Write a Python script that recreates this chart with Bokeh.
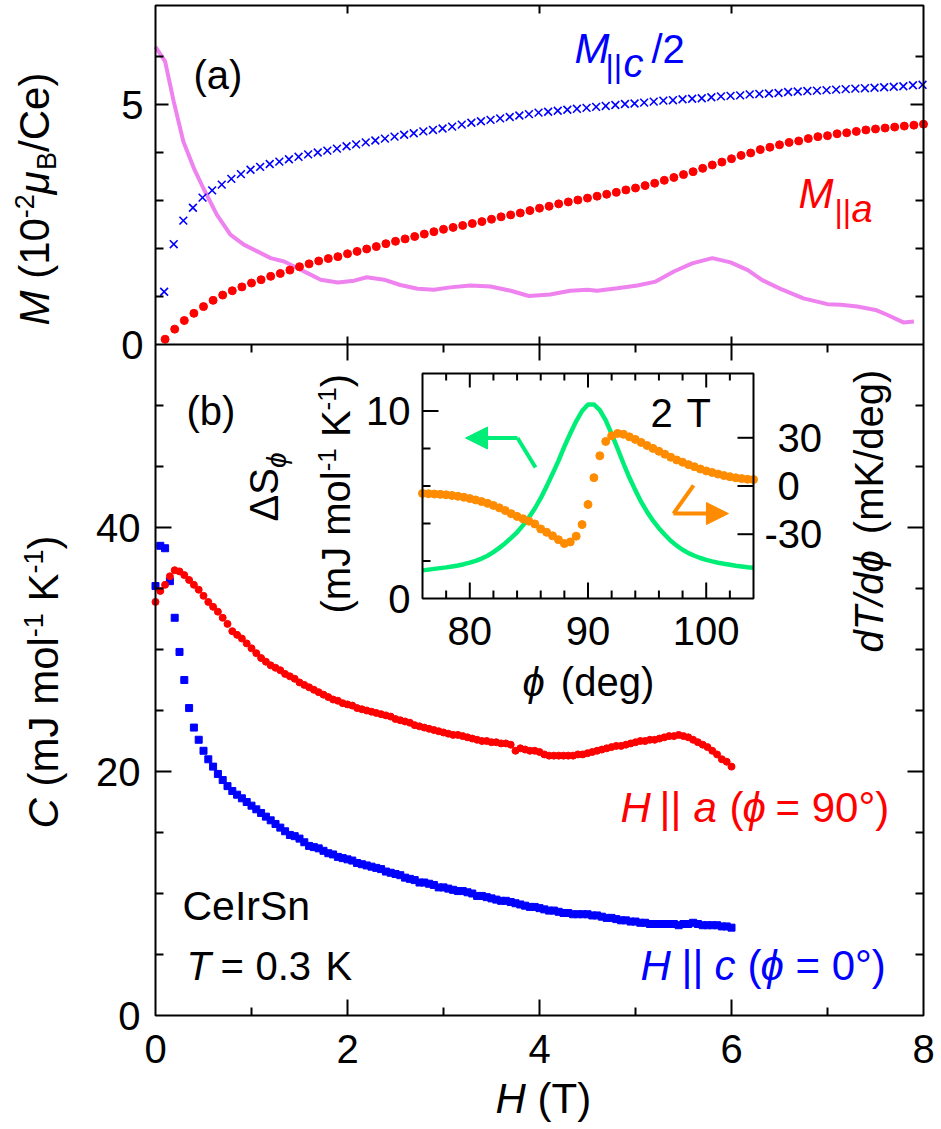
import numpy as np
from bokeh.plotting import figure
from bokeh.models import Range1d, Label, Arrow, NormalHead
from bokeh.embed import file_html
from bokeh.resources import INLINE

FONT = "Liberation Sans"
RED = "#FF0000"
BLUE = "#0000FF"
VIOLET = "#EE82EE"
GREEN = "#00EE77"
ORANGE = "#FF8C00"
PHI = "ϕ"

# ---------------- data: panel (a) ----------------
Ha_par_a = [0.1, 0.2, 0.3, 0.4, 0.5, 0.6, 0.7, 0.8, 0.9, 1.0,
            1.1, 1.2, 1.3, 1.4, 1.5, 1.6, 1.7, 1.8, 1.9, 2.0,
            2.1, 2.2, 2.3, 2.4, 2.5, 2.6, 2.7, 2.8, 2.9, 3.0,
            3.1, 3.2, 3.3, 3.4, 3.5, 3.6, 3.7, 3.8, 3.9, 4.0,
            4.1, 4.2, 4.3, 4.4, 4.5, 4.6, 4.7, 4.8, 4.9, 5.0,
            5.1, 5.2, 5.3, 5.4, 5.5, 5.6, 5.7, 5.8, 5.9, 6.0,
            6.1, 6.2, 6.3, 6.4, 6.5, 6.6, 6.7, 6.8, 6.9, 7.0,
            7.1, 7.2, 7.3, 7.4, 7.5, 7.6, 7.7, 7.8, 7.9, 8.0]
M_par_a = [0.11, 0.32, 0.50, 0.65, 0.79, 0.92, 1.03, 1.12, 1.20, 1.28,
           1.35, 1.42, 1.48, 1.55, 1.62, 1.68, 1.74, 1.79, 1.83, 1.89,
           1.94, 1.99, 2.04, 2.10, 2.15, 2.20, 2.25, 2.30, 2.35, 2.40,
           2.44, 2.48, 2.52, 2.56, 2.61, 2.66, 2.70, 2.74, 2.79, 2.84,
           2.88, 2.93, 2.97, 3.01, 3.05, 3.09, 3.13, 3.17, 3.22, 3.26,
           3.31, 3.36, 3.42, 3.48, 3.54, 3.60, 3.67, 3.74, 3.80, 3.87,
           3.94, 3.99, 4.06, 4.11, 4.16, 4.21, 4.24, 4.29, 4.33, 4.35,
           4.39, 4.41, 4.44, 4.47, 4.49, 4.51, 4.53, 4.55, 4.57, 4.59]

Ha_par_c = [0.09, 0.19, 0.29, 0.39, 0.49, 0.59, 0.69, 0.79, 0.89, 0.99,
            1.09, 1.19, 1.29, 1.39, 1.49, 1.59, 1.69, 1.79, 1.89, 1.99,
            2.09, 2.19, 2.29, 2.39, 2.49, 2.59, 2.69, 2.79, 2.89, 2.99,
            3.09, 3.19, 3.29, 3.39, 3.49, 3.59, 3.69, 3.79, 3.89, 3.99,
            4.09, 4.19, 4.29, 4.39, 4.49, 4.59, 4.69, 4.79, 4.89, 4.99,
            5.09, 5.19, 5.29, 5.39, 5.49, 5.59, 5.69, 5.79, 5.89, 5.99,
            6.09, 6.19, 6.29, 6.39, 6.49, 6.59, 6.69, 6.79, 6.89, 6.99,
            7.09, 7.19, 7.29, 7.39, 7.49, 7.59, 7.69, 7.79, 7.89, 7.99]
M_par_c_half = [1.10, 2.09, 2.58, 2.85, 3.06, 3.21, 3.33, 3.45, 3.55, 3.64,
                3.70, 3.76, 3.81, 3.86, 3.91, 3.96, 4.00, 4.04, 4.08, 4.13,
                4.17, 4.21, 4.25, 4.29, 4.33, 4.37, 4.40, 4.44, 4.47, 4.50,
                4.54, 4.58, 4.62, 4.65, 4.68, 4.71, 4.74, 4.77, 4.80, 4.83,
                4.85, 4.87, 4.89, 4.91, 4.93, 4.95, 4.97, 4.99, 5.01, 5.02,
                5.04, 5.06, 5.08, 5.09, 5.11, 5.12, 5.13, 5.15, 5.17, 5.18,
                5.19, 5.21, 5.22, 5.23, 5.24, 5.26, 5.27, 5.28, 5.29, 5.30,
                5.31, 5.32, 5.33, 5.34, 5.35, 5.36, 5.37, 5.38, 5.40, 5.41]

H_deriv = [0.0, 0.1, 0.19, 0.29, 0.4, 0.5, 0.64, 0.78, 0.92, 1.06, 1.2,
           1.34, 1.48, 1.62, 1.72, 1.9, 2.07, 2.2, 2.38, 2.55, 2.73,
           2.9, 3.07, 3.28, 3.49, 3.7, 3.89, 4.11, 4.32, 4.5, 4.6,
           4.81, 5.02, 5.21, 5.4, 5.59, 5.8, 5.99, 6.17, 6.32, 6.51,
           6.75, 7.0, 7.14, 7.31, 7.5, 7.62, 7.79, 7.9]
M_deriv = [6.2, 5.9, 5.06, 4.23, 3.67, 3.25, 2.7, 2.29, 2.08, 1.94, 1.8,
           1.73, 1.59, 1.45, 1.35, 1.29, 1.33, 1.4, 1.35, 1.24, 1.16,
           1.14, 1.19, 1.23, 1.21, 1.12, 1.01, 1.04, 1.12, 1.14, 1.12,
           1.17, 1.23, 1.31, 1.52, 1.69, 1.80, 1.71, 1.55, 1.34, 1.16,
           0.96, 0.84, 0.83, 0.79, 0.72, 0.62, 0.46, 0.48]

# ---------------- data: panel (b) ----------------
H_b = [0.00, 0.05, 0.10, 0.15, 0.20, 0.25, 0.30, 0.35, 0.40, 0.45,
       0.50, 0.55, 0.60, 0.65, 0.70, 0.75, 0.80, 0.85, 0.90, 0.95,
       1.00, 1.05, 1.10, 1.15, 1.20, 1.25, 1.30, 1.35, 1.40, 1.45,
       1.50, 1.55, 1.60, 1.65, 1.70, 1.75, 1.80, 1.85, 1.90, 1.95,
       2.00, 2.05, 2.10, 2.15, 2.20, 2.25, 2.30, 2.35, 2.40, 2.45,
       2.50, 2.55, 2.60, 2.65, 2.70, 2.75, 2.80, 2.85, 2.90, 2.95,
       3.00, 3.05, 3.10, 3.15, 3.20, 3.25, 3.30, 3.35, 3.40, 3.45,
       3.50, 3.55, 3.60, 3.65, 3.70, 3.75, 3.80, 3.85, 3.90, 3.95,
       4.00, 4.05, 4.10, 4.15, 4.20, 4.25, 4.30, 4.35, 4.40, 4.45,
       4.50, 4.55, 4.60, 4.65, 4.70, 4.75, 4.80, 4.85, 4.90, 4.95,
       5.00, 5.05, 5.10, 5.15, 5.20, 5.25, 5.30, 5.35, 5.40, 5.45,
       5.50, 5.55, 5.60, 5.65, 5.70, 5.75, 5.80, 5.85, 5.90, 5.95,
       6.00]
C_par_a = [33.9, 34.8, 35.3, 36.0, 36.5, 36.4, 36.1, 35.7, 35.3, 34.9,
           34.4, 33.9, 33.5, 33.1, 32.6, 32.1, 31.5, 31.2, 30.9, 30.5,
           30.1, 29.7, 29.3, 29.0, 28.7, 28.5, 28.3, 28.0, 27.8, 27.6,
           27.3, 27.1, 26.9, 26.7, 26.5, 26.3, 26.1, 25.9, 25.8, 25.6,
           25.5, 25.4, 25.2, 25.1, 25.0, 24.9, 24.8, 24.7, 24.6, 24.5,
           24.3, 24.2, 24.1, 24.0, 23.8, 23.7, 23.6, 23.5, 23.4, 23.3,
           23.2, 23.1, 23.0, 23.0, 22.9, 22.8, 22.7, 22.6, 22.5, 22.5,
           22.4, 22.4, 22.3, 22.3, 22.2, 21.7, 21.9, 21.8, 21.7, 21.7,
           21.6, 21.4, 21.3, 21.3, 21.3, 21.3, 21.3, 21.3, 21.4, 21.4,
           21.5, 21.6, 21.7, 21.8, 21.9, 22.0, 22.1, 22.1, 22.2, 22.3,
           22.4, 22.5, 22.5, 22.6, 22.6, 22.7, 22.8, 22.9, 22.9, 23.0,
           22.9, 22.8, 22.6, 22.4, 22.2, 22.0, 21.7, 21.4, 21.0, 20.8,
           20.4]
C_par_c = [35.2, 38.5, 38.3, 35.6, 32.6, 29.8, 27.5, 25.2, 23.6, 22.6,
           21.7, 21.0, 20.4, 19.8, 19.3, 18.8, 18.4, 18.1, 17.8, 17.5,
           17.2, 16.9, 16.6, 16.3, 16.0, 15.7, 15.4, 15.1, 14.8, 14.7,
           14.5, 14.2, 13.9, 13.8, 13.7, 13.5, 13.3, 13.2, 13.0, 12.9,
           12.8, 12.7, 12.5, 12.4, 12.3, 12.2, 12.1, 12.0, 11.8, 11.7,
           11.6, 11.5, 11.3, 11.2, 11.1, 10.9, 10.9, 10.8, 10.7, 10.5,
           10.5, 10.4, 10.3, 10.2, 10.2, 10.1, 10.0, 9.8, 9.8, 9.7,
           9.6, 9.5, 9.4, 9.4, 9.3, 9.2, 9.1, 9.0, 8.9, 8.9,
           8.8, 8.7, 8.6, 8.6, 8.5, 8.4, 8.4, 8.3, 8.3, 8.3,
           8.3, 8.2, 8.2, 8.1, 8.0, 8.0, 7.9, 7.8, 7.8, 7.7,
           7.7, 7.6, 7.6, 7.5, 7.5, 7.5, 7.5, 7.5, 7.5, 7.4,
           7.5, 7.5, 7.6, 7.5, 7.4, 7.4, 7.4, 7.4, 7.3, 7.3,
           7.2]

# ---------------- data: inset ----------------
phi = [76.0, 76.5, 77.0, 77.5, 78.0, 78.5, 79.0, 79.5, 80.0, 80.5,
       81.0, 81.5, 82.0, 82.5, 83.0, 83.5, 84.0, 84.5, 85.0, 85.5,
       86.0, 86.5, 87.0, 87.5, 88.0, 88.5, 89.0, 89.5, 90.0, 90.5,
       91.0, 91.5, 92.0, 92.5, 93.0, 93.5, 94.0, 94.5, 95.0, 95.5,
       96.0, 96.5, 97.0, 97.5, 98.0, 98.5, 99.0, 99.5, 100.0, 100.5,
       101.0, 101.5, 102.0, 102.5, 103.0, 103.5, 104.0]
dS_phi = [1.50, 1.54, 1.58, 1.62, 1.66, 1.71, 1.76, 1.83, 1.91, 2.01,
          2.13, 2.28, 2.47, 2.70, 2.95, 3.23, 3.53, 3.90, 4.32, 4.80,
          5.35, 5.98, 6.65, 7.34, 8.10, 8.80, 9.45, 10.00, 10.35, 10.35,
          10.05, 9.50, 8.78, 8.00, 7.20, 6.45, 5.78, 5.15, 4.62, 4.15,
          3.75, 3.40, 3.08, 2.82, 2.60, 2.42, 2.28, 2.16, 2.06, 1.98,
          1.91, 1.85, 1.80, 1.75, 1.71, 1.67, 1.64]
dTdphi = [-4.6, -4.8, -5.0, -5.2, -5.5, -5.9, -6.4, -7.0, -7.8, -8.7,
          -9.7, -10.8, -12.1, -13.6, -15.3, -17.2, -18.9, -20.4, -21.9, -23.6,
          -26.7, -28.8, -31.0, -33.4, -35.8, -34.8, -31.2, -24.0, -11.5, 5.2,
          18.8, 27.7, 31.2, 32.7, 32.2, 30.6, 29.0, 27.1, 25.2, 23.4,
          21.6, 19.8, 17.9, 16.2, 14.8, 13.3, 12.0, 10.6, 9.4, 8.4,
          7.4, 6.5, 5.8, 5.1, 4.6, 4.2, 4.0]

# ---------------- tick definitions ----------------
H_major = [0, 2, 4, 6, 8]
H_minor = [1, 3, 5, 7]
C_major = [0, 20, 40]
C_minor = [5, 10, 15, 25, 30, 35, 45, 50]
M_major = [0, 5]
M_minor = [1, 2, 3, 4, 6, 7]
phi_major = [80, 90, 100]
phi_minor = [78, 82, 84, 86, 88, 92, 94, 96, 98, 102]
dS_major = [0, 10]
dS_minor = [2, 4, 6, 8]
dT_major = [-30, 0, 30]

# ---------------- layout (page pixels; the canvas sits at the page origin) ----------------
CW, CH = 936, 1124                 # canvas size
PX0, PY0 = 0.0, 0.0                # canvas position on page
FX0, FX1 = 155.0, 923.0            # plot box left / right
FY0, FY1 = 5.0, 1015.0             # plot box top / bottom
YB = 344.0                         # boundary between panels
C_AT_YB = 55.0
M_PER_PX = 1.0 / 48.0
IX0, IX1, IY0, IY1 = 422.0, 753.0, 373.0, 598.0   # inset box
PHI0, PHI1, DS0, DS1, DT0, DT1 = 76.0, 104.0, 0.0, 12.0, -70.0, 70.0
MID = 0.355                        # baseline -> visual middle, in em


def rng(p0, v0, p1, v1, lo, hi):
    k = (v1 - v0) / (p1 - p0)
    a, b = v0 + (lo - p0) * k, v0 + (hi - p0) * k
    return Range1d(min(a, b), max(a, b))


def hx(px):
    return (px - FX0) * 8.0 / (FX1 - FX0)


def cy(py):
    return (FY1 - py) * C_AT_YB / (FY1 - YB)


M_TOP = (YB - FY0) * M_PER_PX
C_TOPBOX = cy(FY0)

p = figure(width=CW, height=CH,
           x_range=rng(FX0, 0, FX1, 8, PX0, PX0 + CW),
           y_range=rng(FY1, 0, YB, C_AT_YB, PY0 + CH, PY0),
           output_backend="svg", toolbar_location=None,
           x_axis_location=None, y_axis_location=None, min_border=0)
p.grid.visible = False
p.outline_line_color = None
p.background_fill_color = "white"
p.border_fill_color = "white"

p.extra_y_ranges = {
    "a": rng(YB, 0.0, YB - 48.0, 1.0, PY0 + CH, PY0),
    "dS": rng(IY1, DS0, IY0, DS1, PY0 + CH, PY0),
    "dT": rng(IY1, DT0, IY0, DT1, PY0 + CH, PY0),
}
p.extra_x_ranges = {"phi": rng(IX0, PHI0, IX1, PHI1, PX0, PX0 + CW)}


def rays(xs, ys, length, angle, xr="default", yr="default"):
    p.ray(x=xs, y=ys, length=length, length_units="screen", angle=angle,
          line_color="black", line_width=2, x_range_name=xr, y_range_name=yr)


def tlabel(text, x, y, xr="default", yr="default", xoff=0, align="left", size=40):
    p.add_layout(Label(x=x, y=y, x_range_name=xr, y_range_name=yr, text=text,
                       x_offset=xoff, text_align=align, text_baseline="middle",
                       text_font=FONT, text_font_size=f"{size}px", text_color="black"))


# ---------------- panel (a) data ----------------
p.line(H_deriv, M_deriv, y_range_name="a", line_color=VIOLET, line_width=4)
p.scatter(Ha_par_c, M_par_c_half, y_range_name="a", marker="x", size=11,
          line_color=BLUE, line_width=1.6)
p.scatter(Ha_par_a, M_par_a, y_range_name="a", marker="circle", size=8,
          fill_color=RED, line_color=RED)

# ---------------- panel (b) data ----------------
p.scatter(H_b, C_par_c, marker="square", size=7, fill_color=BLUE, line_color=BLUE)
p.scatter(H_b, C_par_a, marker="circle", size=7, fill_color=RED, line_color=RED)

# ---------------- plot box, boundary and ticks ----------------
p.quad(left=0, right=8, bottom=0, top=C_TOPBOX, fill_color=None,
       line_color="black", line_width=2)
p.segment(x0=0, y0=0, x1=8, y1=0, y_range_name="a", line_color="black", line_width=2)

inner = [t for t in H_major if 0 < t < 8]
rays(inner, [0] * len(inner), 16, np.pi / 2)
rays(H_minor, [0] * len(H_minor), 8, np.pi / 2)
cin = [t for t in C_major if t > 0]
rays([0] * len(cin), cin, 16, 0)
rays([0] * len(C_minor), C_minor, 8, 0)
rays([8] * len(cin), cin, 16, np.pi)
rays([8] * len(C_minor), C_minor, 8, np.pi)
rays(inner, [0] * len(inner), 16, -np.pi / 2, yr="a")
rays(H_minor, [0] * len(H_minor), 8, -np.pi / 2, yr="a")
rays(inner, [0] * len(inner), 8, np.pi / 2, yr="a")
rays(inner, [M_TOP] * len(inner), 8, -np.pi / 2, yr="a")
min_a = [t for t in M_minor if t < M_TOP - 0.1]
rays([0] * len(min_a), min_a, 8, 0, yr="a")
rays([0], [5], 13, 0, yr="a")
rays([8] * len(min_a), min_a, 8, np.pi, yr="a")
rays([8], [5], 13, np.pi, yr="a")

for v in C_major:
    tlabel(str(v), 0, v, xoff=-15, align="right")
for v in M_major:
    tlabel(str(v), 0, v, yr="a", xoff=-12, align="right")
for v in H_major:
    tlabel(str(v), v, cy(1063 - MID * 40), align="center")

# ---------------- inset ----------------
p.quad(left=PHI0, right=PHI1, bottom=DS0, top=DS1, x_range_name="phi", y_range_name="dS",
       fill_color="white", line_color=None)
p.line(phi, dS_phi, x_range_name="phi", y_range_name="dS", line_color=GREEN, line_width=4.5)
p.scatter(phi, dTdphi, x_range_name="phi", y_range_name="dT", marker="circle", size=8,
          fill_color=ORANGE, line_color=ORANGE)
p.line([85.56, 84.04], [6.99, 8.56], x_range_name="phi", y_range_name="dS",
       line_color=GREEN, line_width=4)
p.add_layout(Arrow(end=NormalHead(size=22, fill_color=GREEN, line_color=GREEN, line_width=1),
                   x_start=84.04, y_start=8.56, x_end=79.64, y_end=8.56,
                   line_color=GREEN, line_width=4, x_range_name="phi", y_range_name="dS"))
p.line([98.93, 97.23], [6.03, 4.53], x_range_name="phi", y_range_name="dS",
       line_color=ORANGE, line_width=4)
p.add_layout(Arrow(end=NormalHead(size=22, fill_color=ORANGE, line_color=ORANGE, line_width=1),
                   x_start=97.23, y_start=4.53, x_end=101.88, y_end=4.53,
                   line_color=ORANGE, line_width=4, x_range_name="phi", y_range_name="dS"))
p.quad(left=PHI0, right=PHI1, bottom=DS0, top=DS1, x_range_name="phi", y_range_name="dS",
       fill_color=None, line_color="black", line_width=2)
rays(phi_minor, [DS0] * len(phi_minor), 8, np.pi / 2, xr="phi", yr="dS")
rays(phi_major, [DS0] * len(phi_major), 16, np.pi / 2, xr="phi", yr="dS")
rays(phi_minor, [DS1] * len(phi_minor), 7, -np.pi / 2, xr="phi", yr="dS")
rays(phi_major, [DS1] * len(phi_major), 14, -np.pi / 2, xr="phi", yr="dS")
rays([PHI0] * len(dS_minor), dS_minor, 8, 0, xr="phi", yr="dS")
rays([PHI0], [10], 16, 0, xr="phi", yr="dS")
rays([PHI1] * len(dT_major), dT_major, 16, np.pi, xr="phi", yr="dT")

for v in phi_major:
    tlabel(str(v), v, cy(645 - MID * 40), xr="phi", align="center")
for v in dS_major:
    tlabel(str(v), PHI0, v, xr="phi", yr="dS", xoff=-12, align="right")
for v, off in zip(dT_major, [11, 24, 24]):
    tlabel(str(v), PHI1, v, xr="phi", yr="dT", xoff=off, align="left")

# ---------------- free text ----------------
WID = {' ': .278, '(': .333, ')': .333, '-': .333, '/': .278, '=': .584, '.': .278,
       'B': .667, 'C': .722, 'H': .722, 'I': .278, 'J': .5, 'K': .667, 'M': .833,
       'S': .667, 'T': .611, 'a': .556, 'c': .5, 'd': .556, 'e': .556, 'g': .556,
       'k': .5, 'l': .222, 'm': .833, 'n': .556, 'o': .556, 'r': .333, '|': .26,
       '°': .4, 'μ': .576, 'Δ': .668, PHI: .68}


def tw(s, size):
    return sum(WID.get(ch, .556) for ch in s) * size


def lab(s, px, py, size=40, color="black", style="normal", rot=False):
    """(px, py): page position of the text's start on its baseline."""
    if rot:
        x, y = hx(px - MID * size), cy(py)
    else:
        x, y = hx(px), cy(py - MID * size)
    p.add_layout(Label(x=x, y=y, text=s, text_font=FONT,
                       text_font_size=f"{size}px", text_color=color,
                       text_font_style=style, angle=(np.pi / 2 if rot else 0.0),
                       text_align="left", text_baseline="middle"))


def compose(pieces, px, py, color="black", rot=False):
    pos = 0.0
    for s, size, style, shift in pieces:
        core = s.lstrip(" ")
        pos += tw(s[:len(s) - len(core)], size)
        if rot:
            lab(core, px - shift, py - pos, size, color, style, rot=True)
        else:
            lab(core, px + pos, py - shift, size, color, style)
        pos += tw(core, size)


lab("(a)", 193, 89)
lab("M", 574, 63, 42, BLUE, "italic")
lab("||", 605, 77, 32, BLUE)
lab("c", 623, 77, 40, BLUE, "italic")
lab("/2", 651, 63, 40, BLUE)
lab("M", 798, 208, 42, RED, "italic")
lab("||", 834, 222, 32, RED)
lab("a", 851, 222, 38, RED, "italic")

lab("(b)", 186, 425)
lab("H", 620, 822, 42, RED, "italic")
lab("||", 659, 822, 42, RED)
lab("a", 693, 822, 42, RED, "italic")
lab("(", 729, 822, 42, RED)
lab(PHI, 742, 822, 42, RED, "italic")
lab("= 90°)", 775, 822, 42, RED)
lab("H", 640, 980, 42, BLUE, "italic")
lab("||", 681, 980, 42, BLUE)
lab("c", 714, 980, 42, BLUE, "italic")
lab("(", 747, 980, 42, BLUE)
lab(PHI, 760, 980, 42, BLUE, "italic")
lab("= 0°)", 795, 980, 42, BLUE)

lab("CeIrSn", 182, 920, 41)
lab("T", 186, 980, style="italic")
lab("=", 220, 980)
lab("0.3", 255, 980)
lab("K", 325, 980)
lab("2", 650, 427)
lab("T", 686, 427)
compose([(PHI, 40, "italic", 0), (" (deg)", 40, "normal", 0)], 522, 696)

# inset y labels (rotated)
compose([("ΔS", 40, "normal", 0), (PHI, 28, "italic", -8)], 278, 521, rot=True)
compose([("(mJ mol", 40, "normal", 0), ("-1", 26, "normal", 14), (" K", 40, "normal", 0),
         ("-1", 26, "normal", 14), (")", 40, "normal", 0)], 350, 613, rot=True)
compose([("dT/d" + PHI, 40, "italic", 0), (" (mK/deg)", 40, "normal", 0)], 883, 652, rot=True)

# main axis labels
compose([("C", 42, "italic", 0), (" (mJ mol", 42, "normal", 0), ("-1", 27, "normal", 15),
         (" K", 42, "normal", 0), ("-1", 27, "normal", 15), (")", 42, "normal", 0)],
        58, 828, rot=True)
compose([("M", 42, "italic", 0), (" (10", 42, "normal", 0), ("-2", 27, "normal", 15),
         ("μ", 42, "italic", 0), ("B", 27, "normal", -7), ("/Ce)", 42, "normal", 0)],
        49, 325, rot=True)
compose([("H", 42, "italic", 0), (" (T)", 42, "normal", 0)], 495, 1113)

open("out.html", "w").write(file_html(p, INLINE))
